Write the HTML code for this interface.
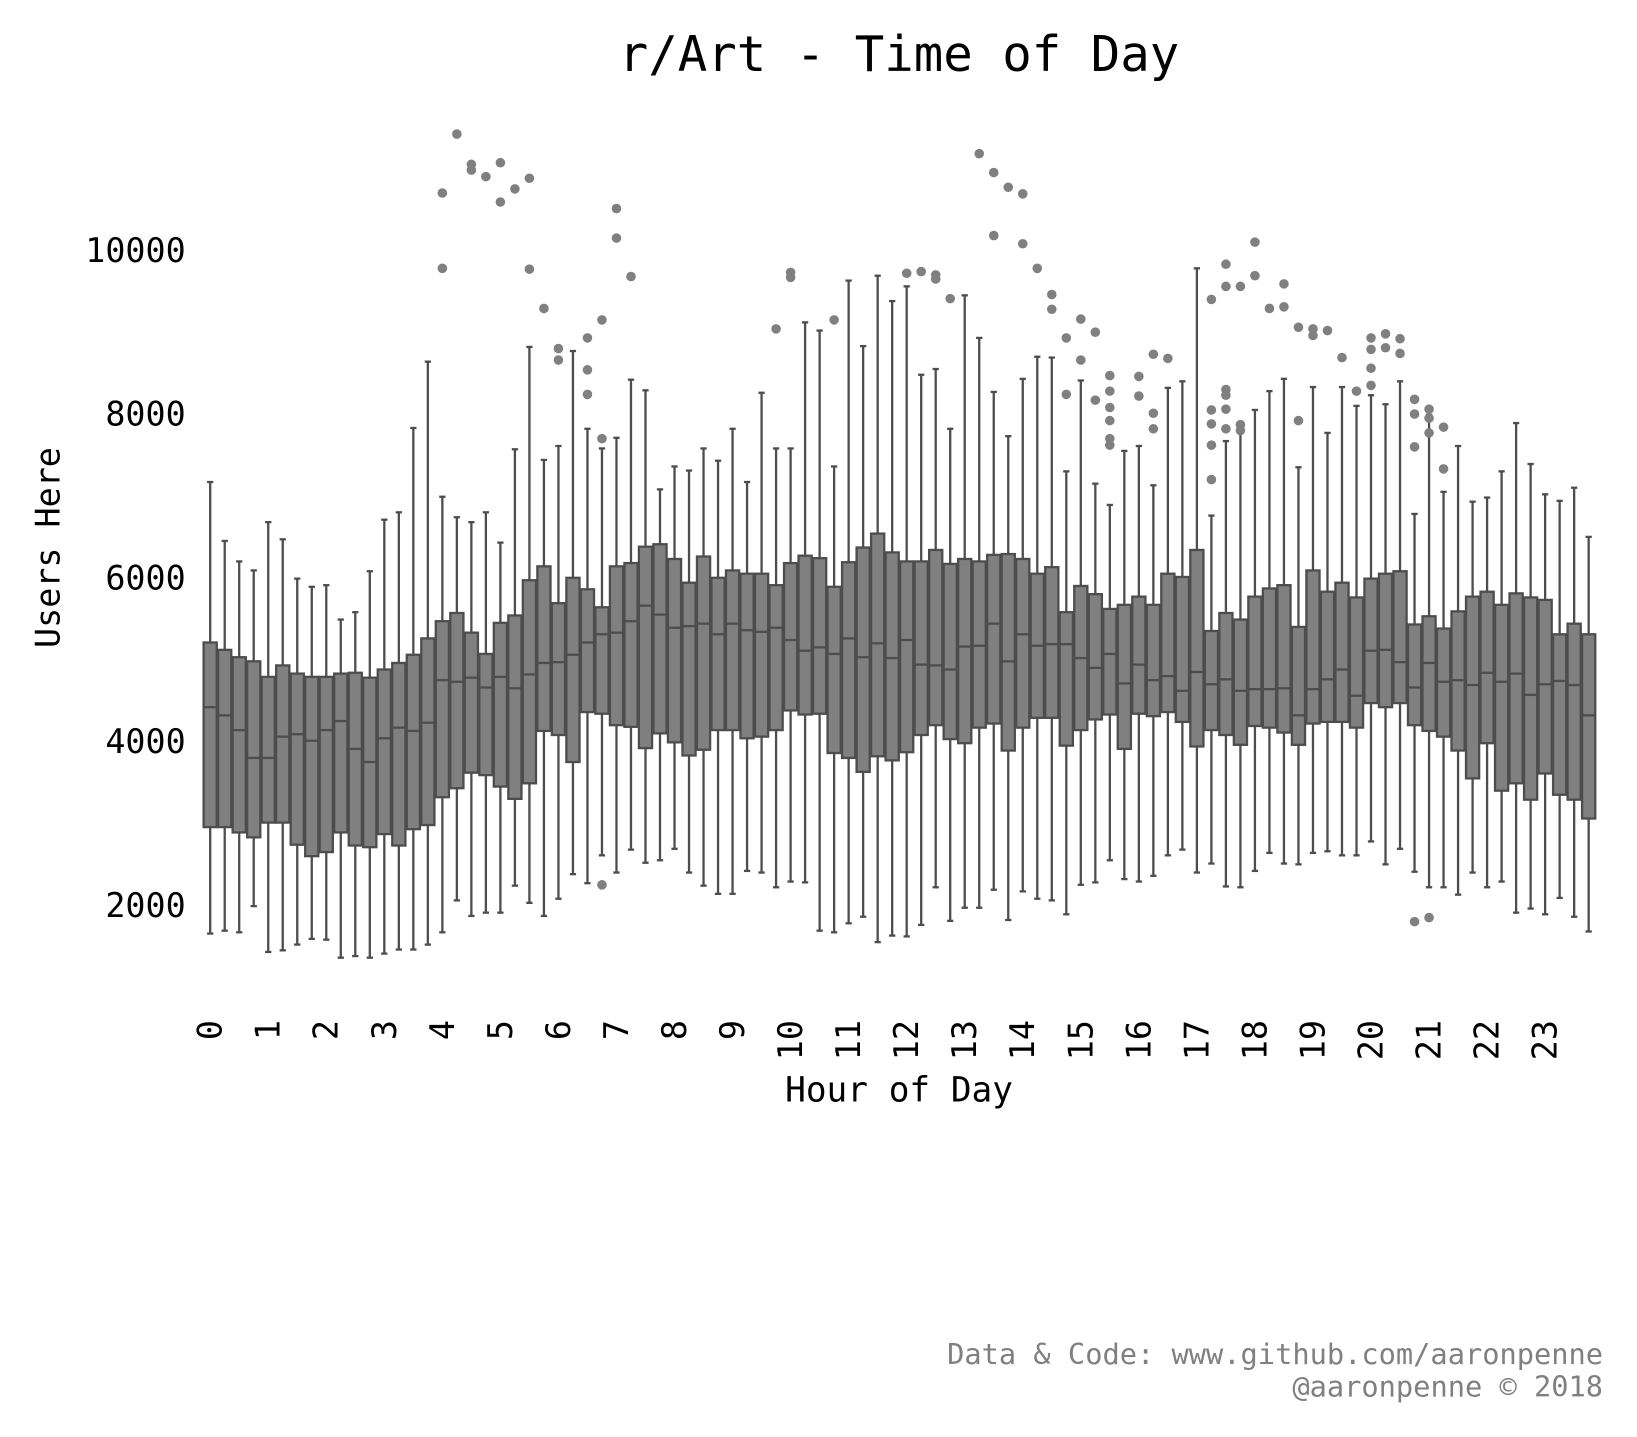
<!DOCTYPE html>
<html><head><meta charset="utf-8">
<style>
html,body{margin:0;padding:0;background:#fff;}
svg{display:block;}
text{font-family:"DejaVu Sans Mono","Liberation Mono",monospace;}
</style></head>
<body>
<svg id="chart" width="1637" height="1437" viewBox="0 0 1569.5 1377.8" xmlns="http://www.w3.org/2000/svg">
<text x="862" y="68" font-size="47" text-anchor="middle" fill="#000">r/Art - Time of Day</text>
<text transform="translate(57,525) rotate(-90)" font-size="32" text-anchor="middle" fill="#000">Users Here</text>
<text x="862" y="1056" font-size="33" text-anchor="middle" fill="#000">Hour of Day</text>
<text x="1537" y="1308" font-size="27.5" text-anchor="end" fill="#808080">Data &amp; Code: www.github.com/aaronpenne</text>
<text x="1537" y="1339" font-size="27.5" text-anchor="end" fill="#808080">@aaronpenne © 2018</text>
<g id="yticks"></g><g id="xticks"></g><g id="boxes"></g><g id="fliers"></g>
</svg>
<script>
const yTickValues = [2000, 4000, 6000, 8000, 10000];
const hourLabels = ["0","1","2","3","4","5","6","7","8","9","10","11","12","13","14","15","16","17","18","19","20","21","22","23"];
const q1 = [2955,2955,2890,2830,3010,3010,2740,2600,2650,2890,2730,2710,2870,2730,2930,2980,3320,3430,3620,3590,3450,3300,3490,4130,4080,3750,4360,4340,4200,4180,3920,4100,3990,3830,3900,4140,4140,4040,4060,4140,4380,4330,4340,3860,3800,3630,3820,3770,3870,4080,4200,4030,3980,4170,4220,3890,4170,4290,4290,3950,4140,4270,4330,3910,4340,4310,4360,4240,3940,4140,4080,3960,4190,4170,4110,3960,4220,4240,4240,4170,4470,4420,4470,4200,4130,4060,3890,3550,3980,3400,3490,3290,3610,3350,3290,3060];
const medians = [4420,4320,4140,3800,3800,4060,4090,4010,4140,4250,3910,3750,4040,4170,4130,4230,4750,4730,4780,4660,4790,4650,4820,4960,4970,5060,5210,5310,5330,5470,5660,5550,5390,5410,5440,5310,5440,5360,5340,5390,5240,5110,5150,5070,5260,5030,5200,5020,5240,4940,4930,4880,5160,5170,5440,4980,5310,5170,5190,5190,5020,4900,5070,4710,4940,4750,4800,4620,4850,4700,4760,4620,4640,4640,4650,4320,4640,4760,4880,4560,5110,5120,4970,4660,4960,4730,4750,4690,4840,4730,4830,4570,4700,4740,4690,4320];
const q3 = [5210,5120,5030,4980,4790,4930,4830,4790,4790,4830,4840,4780,4880,4960,5060,5260,5470,5570,5330,5070,5450,5540,5970,6140,5690,6000,5860,5640,6140,6180,6380,6410,6230,5940,6260,6000,6090,6050,6050,5910,6180,6270,6240,5890,6190,6370,6540,6310,6200,6200,6340,6170,6230,6200,6280,6290,6230,6050,6130,5580,5900,5800,5620,5670,5770,5670,6050,6010,6340,5350,5570,5490,5770,5870,5910,5400,6090,5830,5940,5760,5990,6050,6080,5430,5530,5380,5590,5770,5830,5670,5810,5760,5730,5310,5440,5310];
const whiskerLow = [1655,1690,1670,1990,1430,1450,1520,1590,1580,1360,1380,1360,1410,1460,1460,1520,1670,2060,1870,1910,1910,2240,2030,1870,2080,2380,2270,2610,2400,2680,2520,2550,2690,2400,2240,2140,2140,2420,2400,2220,2290,2280,1690,1670,1780,1860,1550,1630,1620,1760,2220,1810,1970,1970,2190,1820,2170,2080,2060,1890,2250,2280,2550,2320,2290,2360,2610,2680,2400,2510,2230,2220,2420,2640,2510,2500,2640,2660,2610,2610,2780,2500,2690,2410,2220,2220,2130,2400,2220,2290,1910,1960,1890,2090,1860,1680];
const whiskerHigh = [7170,6450,6200,6090,6680,6470,5990,5890,5910,5490,5580,6080,6710,6800,7830,8640,6990,6740,6680,6800,6430,7570,8820,7440,7610,8770,7820,7580,7710,8420,8290,7080,7360,7310,7580,7430,7820,7170,8260,7580,7580,9120,9020,7360,9630,8830,9690,9380,9560,8480,8550,7820,9450,8930,8270,7730,8430,8700,8690,7300,8410,7150,6890,7550,7610,7130,8320,8400,9780,6760,7670,7860,8050,8280,8430,7350,8330,7770,8330,8100,8230,8120,8400,6780,7990,7050,7610,6930,6980,7300,7890,7390,7020,6940,7100,6500];
const flierBox = [16,16,17,18,18,19,20,20,21,22,22,23,24,24,26,26,26,27,27,27,28,28,29,39,40,40,43,48,49,50,50,51,53,54,54,55,56,56,57,58,58,59,59,60,60,61,61,62,62,62,62,62,62,64,64,65,65,65,66,69,69,69,69,69,70,70,70,70,70,70,71,71,71,72,72,73,74,74,75,75,76,76,77,78,79,80,80,80,80,81,81,82,82,83,83,83,83,84,84,84,84,85,85];
const flierValue = [10700,9780,11420,11050,10980,10900,11070,10590,10750,10880,9770,9290,8800,8660,8930,8540,8240,9150,7700,2250,10510,10150,9680,9040,9730,9670,9150,9720,9740,9700,9650,9410,11180,10950,10180,10770,10690,10080,9780,9460,9280,8930,8240,9160,8660,9000,8170,8470,8280,8080,7920,7700,7620,8460,8220,8730,8010,7820,8680,9400,8050,7880,7620,7200,9830,9560,8300,8230,8060,7820,9560,7870,7800,10100,9690,9290,9590,9310,9060,7920,9040,8960,9020,8690,8280,8930,8790,8560,8350,8980,8810,8920,8740,8180,8000,7600,1800,8060,7950,7770,1850,7840,7330];

const NS = "http://www.w3.org/2000/svg";
const yScale = v => 868 - (v - 2000) * 0.0785;
const boxStep = 55.65 / 4;
const xCenter = i => 201.5 + i * boxStep;
const boxW = 12.6, capW = 6;
function mk(tag, attrs, parent) {
  const el = document.createElementNS(NS, tag);
  for (const k in attrs) el.setAttribute(k, attrs[k]);
  parent.appendChild(el);
  return el;
}
const gy = document.getElementById('yticks');
yTickValues.forEach(v => {
  const t = mk('text', {x: 178, y: yScale(v) + 11, 'font-size': 32, 'text-anchor': 'end', fill: '#000'}, gy);
  
  
  t.textContent = v;
});
const gx = document.getElementById('xticks');
hourLabels.forEach((h, k) => {
  const cx = xCenter(k * 4);
  const t = mk('text', {transform: `translate(${cx + 11},978) rotate(-90)`, 'font-size': 32, 'text-anchor': 'end', fill: '#000'}, gx);
  
  
  t.textContent = h;
});
const gb = document.getElementById('boxes');
const stroke = '#4d4d4d';
for (let i = 0; i < q1.length; i++) {
  const cx = xCenter(i);
  const g = mk('g', {}, gb);
  
  
  mk('line', {x1: cx, x2: cx, y1: yScale(whiskerHigh[i]), y2: yScale(q3[i]), stroke, 'stroke-width': 2.2}, g);
  mk('line', {x1: cx, x2: cx, y1: yScale(q1[i]), y2: yScale(whiskerLow[i]), stroke, 'stroke-width': 2.2}, g);
  mk('line', {x1: cx - capW/2, x2: cx + capW/2, y1: yScale(whiskerHigh[i]), y2: yScale(whiskerHigh[i]), stroke, 'stroke-width': 2.2}, g);
  mk('line', {x1: cx - capW/2, x2: cx + capW/2, y1: yScale(whiskerLow[i]), y2: yScale(whiskerLow[i]), stroke, 'stroke-width': 2.2}, g);
  mk('rect', {x: cx - boxW/2, y: yScale(q3[i]), width: boxW, height: yScale(q1[i]) - yScale(q3[i]), fill: '#808080', stroke, 'stroke-width': 2.2}, g);
  mk('line', {x1: cx - boxW/2, x2: cx + boxW/2, y1: yScale(medians[i]), y2: yScale(medians[i]), stroke, 'stroke-width': 2.2}, g);
}
const gf = document.getElementById('fliers');
flierBox.forEach((b, j) => {
  const c = mk('circle', {cx: xCenter(b), cy: yScale(flierValue[j]), r: 4.6, fill: '#808080'}, gf);
  
  
});
</script>
</body></html>
